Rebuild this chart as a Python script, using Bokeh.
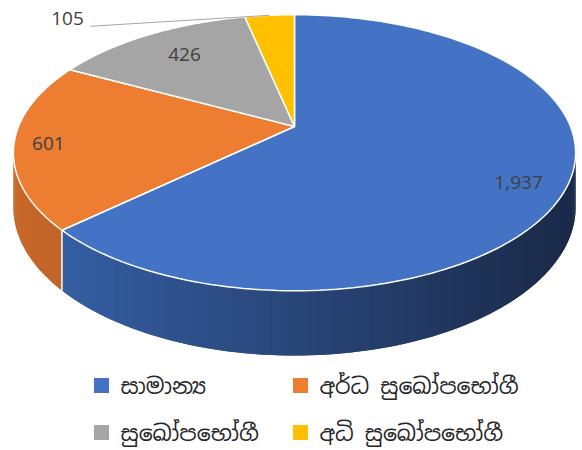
import numpy as np
from bokeh.plotting import figure
from bokeh.models import Range1d
from bokeh.core.properties import value
from bokeh.embed import file_html
from bokeh.resources import INLINE

# ---- data ----
categories = ["සාමාන්‍ය", "අර්ධ සුඛෝපභෝගී", "සුඛෝපභෝගී", "අධි සුඛෝපභෝගී"]
values = [1937, 601, 426, 105]
value_labels = ["1,937", "601", "426", "105"]
top_colors = ["#4472C4", "#ED7D31", "#A5A5A5", "#FFC000"]
side_light = ["#3763AA", "#C8682A", "#8C8C8C", "#D9A300"]
side_dark = ["#1A2948", "#7A3C14", "#505050", "#7A5C00"]

# ---- layout (perspective pie geometry) ----
W, H = 582, 450
x0, y0 = 294.0, 126.0       # projected centre
A, Bv, persp = 276.0, 133.0, 0.19
depth0 = 52.5
label_r = [0.83, 0.88, 0.73]
label_dy = [9, 1, -2]

p = figure(width=W, height=H, x_range=Range1d(0, W), y_range=Range1d(H, 0),
           output_backend="svg", toolbar_location=None, min_border=0)
p.axis.visible = False
p.grid.visible = False
p.outline_line_color = None
p.background_fill_color = "white"


def proj(t_deg, r=1.0):
    t = np.radians(t_deg)
    s = 1.0 / (1.0 + persp * r * np.sin(t))
    return x0 + A * r * np.cos(t) * s, y0 - Bv * r * np.sin(t) * s


def wall(t_deg):
    t = np.radians(t_deg)
    return depth0 / (1.0 + persp * np.sin(t))


def hex2rgb(h):
    h = h.lstrip("#")
    return np.array([int(h[i:i + 2], 16) for i in (0, 2, 4)], dtype=float)


def rgb2hex(c):
    return "#%02x%02x%02x" % tuple(int(round(v)) for v in c)


total = float(sum(values))
fr = np.array(values) / total
cum = np.concatenate([[0], np.cumsum(fr)])
t_start = 90 - cum[:-1] * 360
t_end = 90 - cum[1:] * 360

vis_lo = 180 + np.degrees(np.arcsin(persp))
vis_hi = 360 - np.degrees(np.arcsin(persp))
xmin = proj(vis_lo)[0]
xmax = proj(vis_hi)[0]

# ---- side walls (visible front part only) ----
sx, sy, sc = [], [], []
edges = []
for i in range(len(values)):
    lo, hi = t_end[i], t_start[i]
    for sh in (-360, 0, 360):
        l2, h2 = max(lo + sh, vis_lo), min(hi + sh, vis_hi)
        if h2 > l2:
            n = max(2, int((h2 - l2) * 1.5))
            ts = np.linspace(l2, h2, n + 1)
            for k in range(n):
                ta, tb = ts[k], ts[min(k + 2, n)]
                xa, ya = proj(ta)
                xb, yb = proj(tb)
                sx.append([xa, xb, xb, xa])
                sy.append([ya, yb, yb + wall(tb), ya + wall(ta)])
                f = ((xa + xb) / 2 - xmin) / (xmax - xmin)
                f = min(max(f, 0), 1)
                c = hex2rgb(side_light[i]) * (1 - f) + hex2rgb(side_dark[i]) * f
                sc.append(rgb2hex(c))
            for e in (l2, h2):
                if vis_lo + 0.01 < e < vis_hi - 0.01:
                    edges.append(e)
p.patches(xs=sx, ys=sy, fill_color=sc, line_color=None)
for e in sorted(set(np.round(edges, 6))):
    xe, ye = proj(e)
    p.segment(x0=[xe], y0=[ye], x1=[xe], y1=[ye + wall(e)], line_color="white", line_width=1.5)

# ---- top wedges ----
wx, wy = [], []
for i in range(len(values)):
    ts = np.linspace(t_start[i], t_end[i], 160)
    xs, ys = proj(ts)
    wx.append([x0] + list(xs))
    wy.append([y0] + list(ys))
p.patches(xs=wx, ys=wy, fill_color=top_colors, line_color="white", line_width=1.5)

# ---- data labels ----
mid = (t_start + t_end) / 2
lx, ly = [], []
for i in range(3):
    x, y = proj(mid[i], label_r[i])
    lx.append(x)
    ly.append(y + label_dy[i])
p.text(x=lx, y=ly, text=value_labels[:3], text_align="center", text_baseline="middle",
       text_font=value("Open Sans"), text_font_size="19px", text_color="#404040")
# outside label with leader line for the small slice
ex, ey = proj(mid[3])
p.line(x=[ex, 90], y=[ey, ey + 11], line_color="#A6A6A6", line_width=1)
p.text(x=[67], y=[ey + 3], text=[value_labels[3]], text_align="center", text_baseline="middle",
       text_font=value("Open Sans"), text_font_size="19px", text_color="#404040")

# ---- legend ----
leg_x = [101, 300, 101, 300]
leg_y = [385, 385, 432, 432]
p.scatter(x=leg_x, y=leg_y, marker="square", size=15, fill_color=top_colors, line_color=None)
p.text(x=[x + 19 for x in leg_x], y=leg_y, text=categories, text_align="left",
       text_baseline="middle", text_font=value("Noto Sans Sinhala, Iskoola Pota, sans-serif"),
       text_font_size="22px", text_color="#262626")

open("out.html", "w").write(file_html(p, INLINE))
